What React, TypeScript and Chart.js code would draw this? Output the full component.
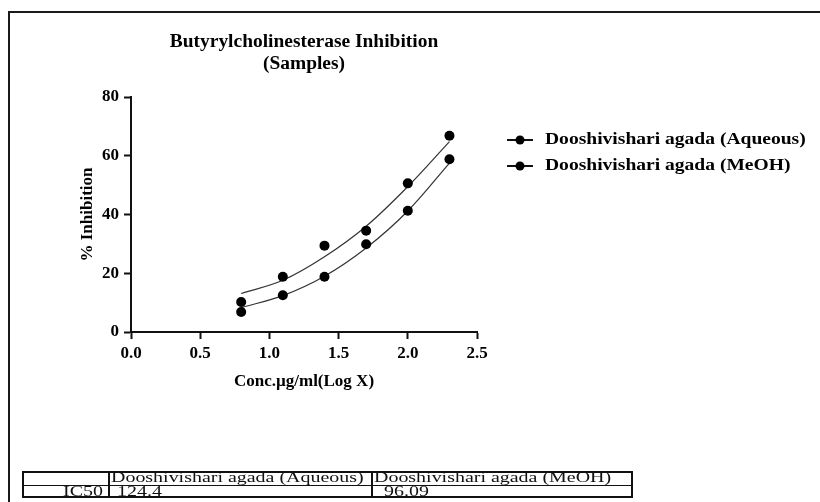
import React, { useEffect, useRef } from "react";
import { Chart, registerables } from "chart.js";

Chart.register(...registerables);

const FONT = "'Liberation Serif', 'Times New Roman', serif";

const seriesNames = ["Dooshivishari agada (Aqueous)", "Dooshivishari agada (MeOH)"];
const logConc = [0.796, 1.097, 1.398, 1.699, 2.0, 2.301];
const aqueousInhibition = [6.8, 12.5, 18.8, 29.9, 41.3, 58.8];
const meohInhibition = [10.2, 18.8, 29.4, 34.5, 50.6, 66.8];
const aqueousFit = [8.3, 12.4, 19.0, 28.6, 41.2, 57.5];
const meohFit = [13.1, 17.6, 25.6, 36.0, 49.5, 64.8];
const xTicks = [0, 0.5, 1.0, 1.5, 2.0, 2.5];
const yTicks = [0, 20, 40, 60, 80];
const titleLines = ["Butyrylcholinesterase Inhibition", "(Samples)"];
const xTitle = "Conc.µg/ml(Log X)";
const yTitle = "% Inhibition";
const tableHeader = ["", seriesNames[0], seriesNames[1]];
const ic50Row = ["IC50", "124.4", "96.09"];

const toXY = (xs: number[], ys: number[]) => xs.map((x, i) => ({ x, y: ys[i] }));

const overlayPlugin = {
  id: "overlay",
  afterDraw(chart: any) {
    const { ctx, chartArea } = chart;
    const cx = (chartArea.left + chartArea.right) / 2;
    ctx.save();
    ctx.fillStyle = "#000";
    ctx.textBaseline = "middle";
    ctx.font = `bold 18px ${FONT}`;
    ctx.textAlign = "center";
    titleLines.forEach((t, i) => {
      ctx.save();
      ctx.translate(cx, chartArea.top - 55 + i * 22);
      ctx.scale(1.08, 1);
      ctx.fillText(t, 0, 0);
      ctx.restore();
    });
    // legend
    ctx.font = `bold 17px ${FONT}`;
    ctx.textAlign = "left";
    seriesNames.forEach((name, i) => {
      const y = chartArea.top + 43 + i * 26;
      const x0 = chartArea.right + 30;
      ctx.strokeStyle = "#111";
      ctx.lineWidth = 2;
      ctx.beginPath();
      ctx.moveTo(x0, y);
      ctx.lineTo(x0 + 26, y);
      ctx.stroke();
      ctx.fillStyle = "#000";
      ctx.beginPath();
      ctx.arc(x0 + 13, y, 4.5, 0, Math.PI * 2);
      ctx.fill();
      ctx.save();
      ctx.translate(x0 + 38, y);
      ctx.scale(1.15, 1);
      ctx.fillText(name, 0, 0);
      ctx.restore();
    });
    ctx.restore();
  },
};

export default function App() {
  const ref = useRef<HTMLCanvasElement | null>(null);

  useEffect(() => {
    if (!ref.current) return;
    const tickFont = { family: FONT, size: 17, weight: "bold" as const };
    const chart = new Chart(ref.current, {
      type: "scatter",
      data: {
        datasets: [
          {
            label: seriesNames[0],
            data: toXY(logConc, aqueousInhibition),
            showLine: false,
            pointRadius: 5,
            pointBackgroundColor: "#000",
            pointBorderColor: "#000",
            pointBorderWidth: 0,
          },
          {
            label: seriesNames[1],
            data: toXY(logConc, meohInhibition),
            showLine: false,
            pointRadius: 5,
            pointBackgroundColor: "#000",
            pointBorderColor: "#000",
            pointBorderWidth: 0,
          },
          {
            label: seriesNames[0] + " fit",
            data: toXY(logConc, aqueousFit),
            showLine: true,
            pointRadius: 0,
            borderColor: "#333",
            borderWidth: 1.2,
            tension: 0.35,
          },
          {
            label: seriesNames[1] + " fit",
            data: toXY(logConc, meohFit),
            showLine: true,
            pointRadius: 0,
            borderColor: "#333",
            borderWidth: 1.2,
            tension: 0.35,
          },
        ],
      },
      options: {
        animation: false,
        responsive: false,
        devicePixelRatio: 1,
        layout: { padding: { left: 0, top: 97, right: 343, bottom: 0 } },
        plugins: {
          legend: { display: false },
          title: { display: false },
          tooltip: { enabled: false },
        },
        scales: {
          x: {
            type: "linear",
            min: 0,
            max: 2.5,
            afterBuildTicks: (s: any) => {
              s.ticks = xTicks.map((v) => ({ value: v }));
            },
            afterFit: (s: any) => {
              s.height = 170;
            },
            ticks: {
              color: "#000",
              font: tickFont,
              padding: 4,
              maxRotation: 0,
              callback: (v: any) => Number(v).toFixed(1),
            },
            grid: { drawOnChartArea: false, drawTicks: true, tickLength: 7, tickWidth: 2, tickColor: "#111" },
            border: { display: true, color: "#111", width: 2 },
            title: {
              display: true,
              text: xTitle,
              color: "#000",
              font: { family: FONT, size: 17, weight: "bold" },
              padding: { top: 0, bottom: 110 },
            },
          },
          y: {
            type: "linear",
            min: 0,
            max: 80,
            afterBuildTicks: (s: any) => {
              s.ticks = yTicks.map((v) => ({ value: v }));
            },
            afterFit: (s: any) => {
              s.width = 131;
            },
            ticks: { color: "#000", font: tickFont, padding: 5 },
            grid: { drawOnChartArea: false, drawTicks: true, tickLength: 7, tickWidth: 2, tickColor: "#111" },
            border: { display: true, color: "#111", width: 2 },
            title: {
              display: true,
              text: yTitle,
              color: "#000",
              font: { family: FONT, size: 17, weight: "bold" },
              padding: { top: 77, bottom: 0 },
            },
          },
        },
      },
      plugins: [overlayPlugin],
    });
    return () => chart.destroy();
  }, []);

  const cellText = (text: string, left: number, top: number, alignRight = false) => (
    <span
      style={{
        position: "absolute",
        left: alignRight ? undefined : left,
        right: alignRight ? 607 - left : undefined,
        top,
        fontFamily: FONT,
        fontSize: 15,
        lineHeight: "13px",
        color: "#111",
        whiteSpace: "nowrap",
        transform: "scaleX(1.33)",
        transformOrigin: alignRight ? "right center" : "left center",
      }}
    >
      {text}
    </span>
  );

  return (
    <div style={{ position: "absolute", left: 0, top: 0, width: 820, height: 502, background: "#fff", overflow: "hidden" }}>
      <div
        style={{
          position: "absolute",
          left: 8,
          top: 11,
          width: 820,
          height: 500,
          borderTop: "2px solid #1a1a1a",
          borderLeft: "2px solid #1a1a1a",
        }}
      />
      <canvas ref={ref} width={820} height={502} style={{ position: "absolute", left: 0, top: 0, display: "block" }} />
      <div
        style={{
          position: "absolute",
          left: 22,
          top: 471,
          width: 611,
          height: 27,
          boxSizing: "border-box",
          border: "2px solid #111",
        }}
      >
        <div style={{ position: "absolute", left: 84, top: 0, width: 2, height: 23, background: "#111" }} />
        <div style={{ position: "absolute", left: 347, top: 0, width: 2, height: 23, background: "#111" }} />
        <div style={{ position: "absolute", left: 0, top: 11.5, width: 607, height: 1.5, background: "#111" }} />
        {cellText(tableHeader[1], 87, -2)}
        {cellText(tableHeader[2], 350, -2)}
        {cellText(ic50Row[0], 79, 11.5, true)}
        {cellText(ic50Row[1], 93, 11.5)}
        {cellText(ic50Row[2], 360, 11.5)}
      </div>
    </div>
  );
}
